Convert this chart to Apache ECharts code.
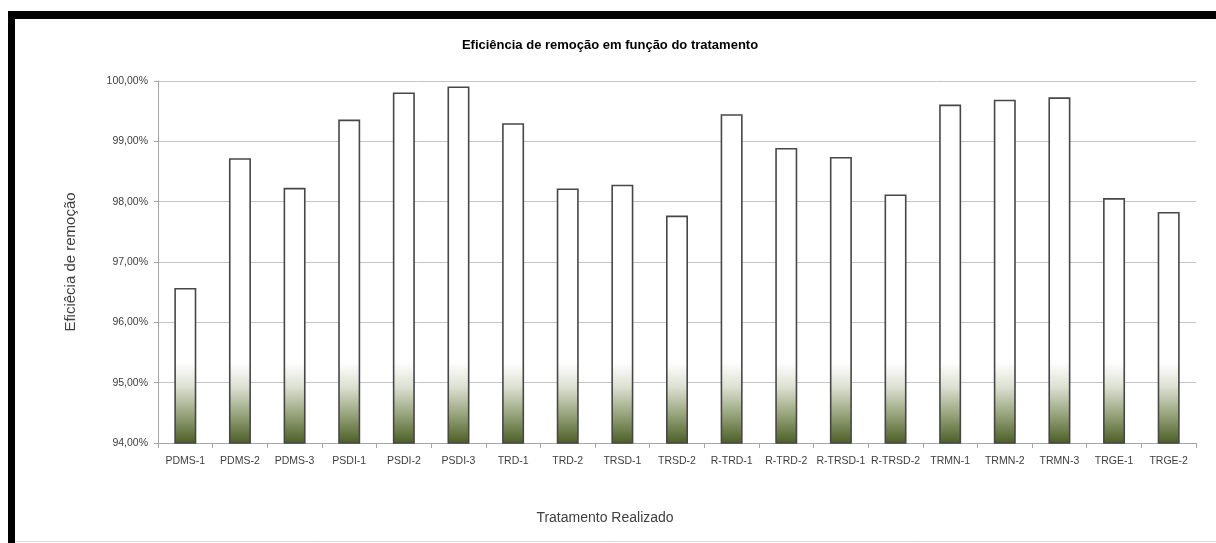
<!DOCTYPE html>
<html>
<head>
<meta charset="utf-8">
<script src="https://cdn.jsdelivr.net/npm/echarts@6/dist/echarts.min.js"></script>
<style>
  html, body { margin: 0; padding: 0; background: #fff; }
  #chart { width: 1216px; height: 543px; }
</style>
</head>
<body>
<div id="chart"></div>
<script>
var categories = ['PDMS-1', 'PDMS-2', 'PDMS-3', 'PSDI-1', 'PSDI-2', 'PSDI-3', 'TRD-1', 'TRD-2', 'TRSD-1', 'TRSD-2',
    'R-TRD-1', 'R-TRD-2', 'R-TRSD-1', 'R-TRSD-2', 'TRMN-1', 'TRMN-2', 'TRMN-3', 'TRGE-1', 'TRGE-2'];
var eficiencia = [96.57, 98.72, 98.23, 99.36, 99.81, 99.91, 99.30, 98.22, 98.28, 97.77,
    99.45, 98.89, 98.74, 98.12, 99.61, 99.69, 99.73, 98.06, 97.83];
var yTicks = { min: 94, max: 100, interval: 1 };

var myChart = echarts.init(document.getElementById('chart'));

// gradiente: branco em cima, verde oliva na base
function barColor(params) {
    var h = params.value - yTicks.min;
    var start = 1 - 1.35 / h;
    if (start < 0) start = 0;
    var rest = 1 - start;
    return new echarts.graphic.LinearGradient(0, 0, 0, 1, [
        { offset: 0, color: '#ffffff' },
        { offset: start, color: '#ffffff' },
        { offset: start + rest * 0.3, color: '#dde1d3' },
        { offset: start + rest * 0.65, color: '#96a27a' },
        { offset: 1, color: '#4a5d24' }
    ]);
}

var labelFont = "'Liberation Sans', sans-serif";

option = {
    backgroundColor: '#ffffff',
    animation: false,
    title: {
        text: 'Eficiência de remoção em função do tratamento',
        left: 605,
        top: 34,
        textAlign: 'center',
        textStyle: { fontFamily: 'Liberation Sans', fontSize: 13, fontWeight: 'bold', color: '#000' }
    },
    grid: { left: 158, right: 20, top: 81, bottom: 100, containLabel: false },
    xAxis: {
        type: 'category',
        data: categories,
        name: 'Tratamento Realizado',
        nameLocation: 'middle',
        nameGap: 68,
        nameTextStyle: { fontFamily: 'Liberation Sans', fontSize: 14, color: '#404040', padding: [0, 144, 0, 0] },
        axisLine: { lineStyle: { color: '#a6a6a6' } },
        axisTick: { show: true, length: 5, lineStyle: { color: '#a6a6a6' } },
        axisLabel: { fontFamily: labelFont, fontSize: 10.5, color: '#404040', margin: 13, interval: 0 }
    },
    yAxis: {
        type: 'value',
        min: yTicks.min,
        max: yTicks.max,
        interval: yTicks.interval,
        name: 'Eficiêcia de remoção',
        nameLocation: 'middle',
        nameGap: 80,
        nameTextStyle: { fontFamily: 'Liberation Sans', fontSize: 15, color: '#404040' },
        axisLine: { show: true, lineStyle: { color: '#a6a6a6' } },
        axisTick: { show: true, length: 4, lineStyle: { color: '#a6a6a6' } },
        splitLine: { lineStyle: { color: '#c4c4c4' } },
        axisLabel: {
            fontFamily: labelFont, fontSize: 10.5, color: '#404040', margin: 10,
            formatter: function (v) { return v.toFixed(2).replace('.', ',') + '%'; }
        }
    },
    series: [
        {
            name: 'Eficiência',
            type: 'bar',
            data: eficiencia,
            barWidth: 22,
            itemStyle: {
                color: barColor,
                borderColor: '#474747',
                borderWidth: 1.6
            }
        }
    ],
    graphic: [
        { type: 'rect', shape: { x: 8, y: 11, width: 1208, height: 8 }, style: { fill: '#000' } },
        { type: 'rect', shape: { x: 8, y: 11, width: 7, height: 532 }, style: { fill: '#000' } },
        { type: 'line', shape: { x1: 15, y1: 541.5, x2: 1216, y2: 541.5 }, style: { stroke: '#d9d9d9', lineWidth: 1 } }
    ]
};
myChart.setOption(option);
</script>
</body>
</html>
